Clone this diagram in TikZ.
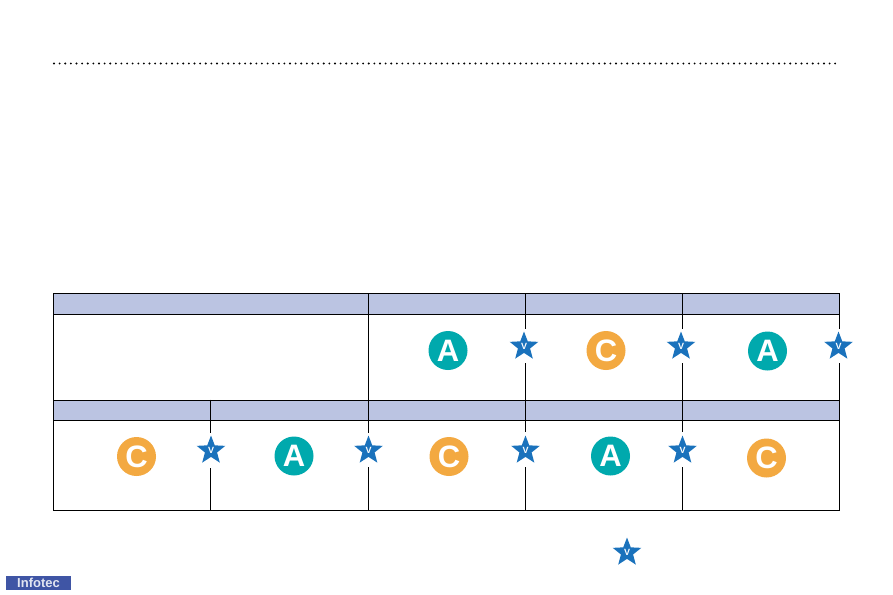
\documentclass[tikz,border=0pt]{standalone}
\usepackage{fontspec}
\setmainfont{Liberation Sans}
\usetikzlibrary{shapes.geometric}
\definecolor{hdr}{HTML}{BBC4E2}
\definecolor{teal}{HTML}{00A9AD}
\definecolor{orng}{HTML}{F3A941}
\definecolor{starb}{HTML}{1A72BC}
\definecolor{logob}{HTML}{3F55A5}
\tikzset{
  x=1pt,y=-1pt,
  tbl/.style={draw=black,line width=1pt},
  rule/.style={draw=black,line width=1pt},
  hcell/.style={fill=hdr},
  iconA/.style={circle,fill=teal,text=white,minimum size=39pt,inner sep=0pt,font=\fontsize{31}{31}\selectfont\bfseries},
  iconC/.style={circle,fill=orng,text=white,minimum size=39pt,inner sep=0pt,font=\fontsize{31}{31}\selectfont\bfseries},
  vstar/.style={star,star points=5,star point ratio=2.35,minimum size=30pt,inner sep=0pt,fill=starb,text=white,font=\fontsize{9}{9}\selectfont\bfseries},
}
\begin{document}
\begin{tikzpicture}
\useasboundingbox (0,0) rectangle (893,594);
\fill[white] (0,0) rectangle (893,594);
% dotted rule
\coordinate (ruleL) at (54,63.5);
\coordinate (ruleR) at (840,63.5);
\draw[line width=2.1pt,line cap=round,dash pattern=on 0pt off 5.62pt] (ruleL) -- (ruleR);
% header bands
\fill[hcell] (53.3,293.7) rectangle (839.3,314.3);
\fill[hcell] (53.3,400.3) rectangle (839.3,420.3);
% table horizontal lines and frame
\draw[tbl] (53.3,293.7) rectangle (839.3,510.3);
\draw[rule] (53.3,314.3) -- (839.3,314.3);
\draw[rule] (53.3,400.3) -- (839.3,400.3);
\draw[rule] (53.3,420.3) -- (839.3,420.3);
% top-row verticals
\draw[rule] (368.3,293.7) -- (368.3,510.3);
\draw[rule] (525.3,293.7) -- (525.3,329) (525.3,363) -- (525.3,432) (525.3,467) -- (525.3,510.3);
\draw[rule] (682.3,293.7) -- (682.3,329) (682.3,363) -- (682.3,432) (682.3,467) -- (682.3,510.3);
\draw[rule] (210.3,399.5) -- (210.3,433) (210.3,468) -- (210.3,510.3);
% right edge gaps
\fill[white] (830,329) rectangle (845,363);
\fill[white] (360,433) rectangle (376,467);
\draw[rule] (368.3,420.3) -- (368.3,433) (368.3,467) -- (368.3,510.3);
% icons, top
\node[iconA] (a1) at (448,350.5) {A};
\node[vstar] (s1) at (524,346.5) {V};
\node[iconC] (c1) at (606,350.5) {C};
\node[vstar] (s2) at (681,346.5) {V};
\node[iconA] (a2) at (767.5,351) {A};
\node[vstar] (s3) at (838.5,346.5) {V};
% icons, bottom
\node[iconC] (c2) at (136.5,456.5) {C};
\node[vstar] (s4) at (211,450.5) {V};
\node[iconA] (a3) at (294,456) {A};
\node[vstar] (s5) at (368.5,450.5) {V};
\node[iconC] (c3) at (449,456.5) {C};
\node[vstar] (s6) at (525.5,450.5) {V};
\node[iconA] (a4) at (610.5,456) {A};
\node[vstar] (s7) at (682.5,450.5) {V};
\node[iconC] (c4) at (766.5,458) {C};
% legend star
\node[vstar] (s8) at (627,552.5) {V};
% logo
\node[fill=logob,text=white!85!logob,minimum width=65pt,minimum height=14.5pt,inner sep=0pt,font=\fontsize{13}{13}\selectfont\bfseries] (logo) at (38.5,583) {Infotec};
\end{tikzpicture}
\end{document}
